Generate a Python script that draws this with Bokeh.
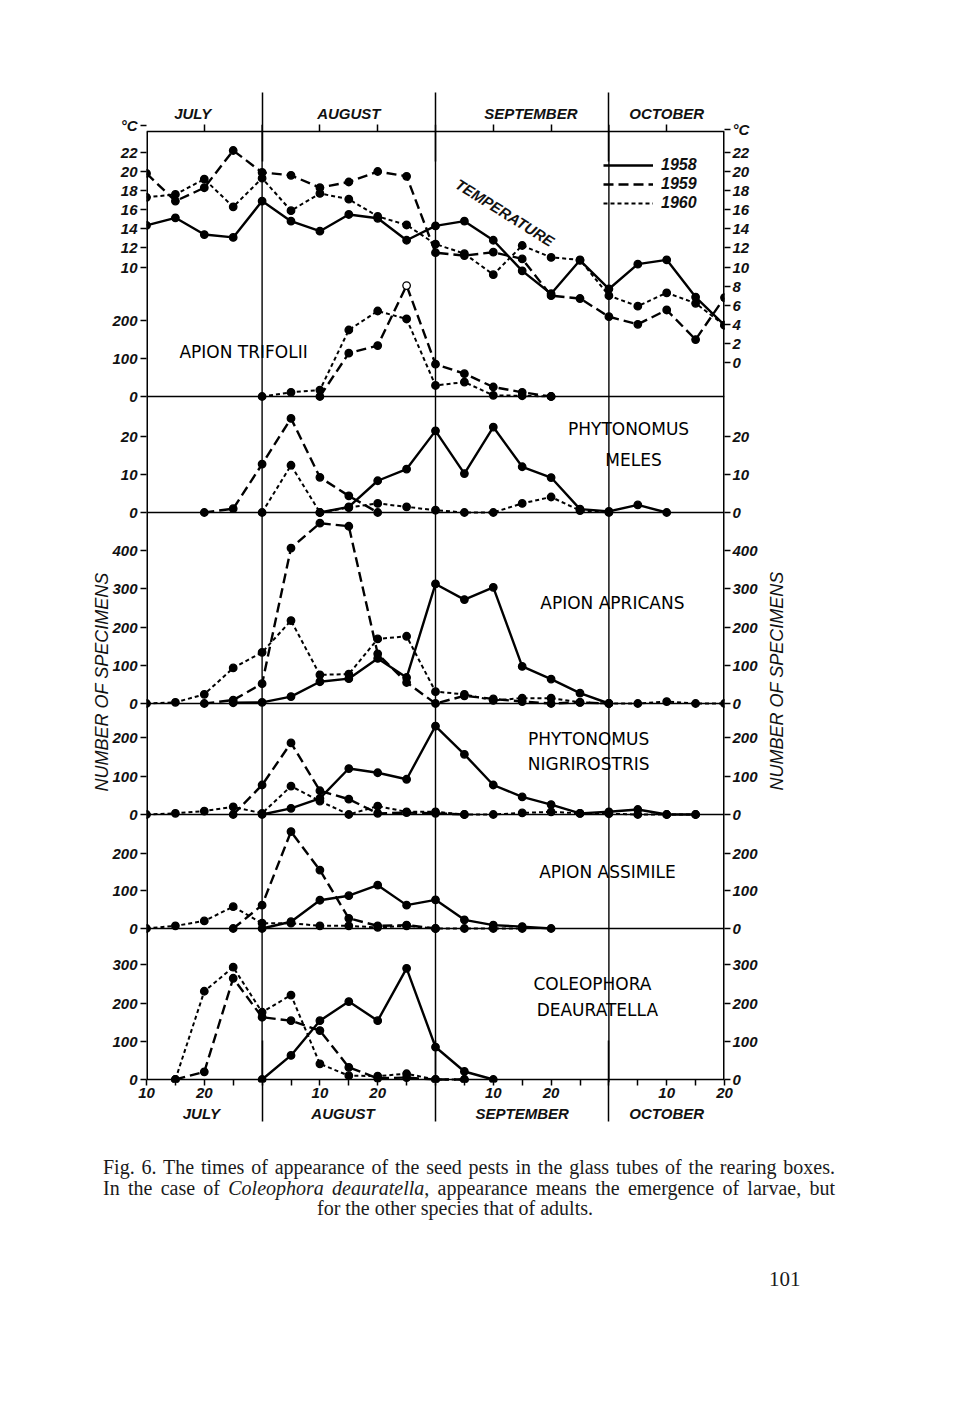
import math
from bokeh.plotting import figure
from bokeh.models import Range1d, LinearAxis, FixedTicker, Span, Label, Legend, LegendItem, Div
from bokeh.layouts import column
from bokeh.embed import file_html
from bokeh.resources import INLINE

# ---------------- data ----------------
# x = pentad index counted from 1 July: 2 = 10 July, 4 = 20 July, 6 = 1 Aug,
# 8 = 10 Aug, 10 = 20 Aug, 12 = 1 Sep, ..., 18 = 1 Oct, 20 = 10 Oct, 22 = 20 Oct
temp_x = list(range(2, 23))
temp_1958 = [14.35, 15.15, 13.4, 13.1, 16.9, 14.8, 13.75, 15.5, 15.1, 12.8, 14.3,
             14.8, 12.8, 9.6, 7.2, 10.7, 7.7, 10.3, 10.75, 6.85, 3.9]
temp_1959 = [19.8, 16.9, 18.3, 22.2, 19.9, 19.6, 18.3, 18.9, 20.0, 19.5, 11.5,
             11.2, 11.55, 10.85, 7.0, 6.7, 4.8, 4.0, 5.5, 2.4, 6.8]
temp_1960 = [17.3, 17.6, 19.2, 16.3, 19.3, 15.9, 17.7, 17.1, 15.3, 14.4, 12.4,
             11.4, 9.2, 12.25, 11.0, 10.75, 7.0, 5.9, 7.3, 6.2, 3.9]

trifolii_1959_x = [8, 9, 10, 11, 12, 13, 14, 15, 16]
trifolii_1959 = [0, 114, 134, 292, 85, 60, 25, 11, 0]
trifolii_1960_x = [6, 7, 8, 9, 10, 11, 12, 13, 14, 15, 16]
trifolii_1960 = [0, 11, 17, 175, 225, 204, 29, 38, 3, 2, 0]

meles_1958_x = list(range(8, 21))
meles_1958 = [0, 1.5, 8.4, 11.5, 21.6, 10.3, 22.6, 12.1, 9.25, 0.9, 0.3, 2.0, 0]
meles_1959_x = list(range(4, 11))
meles_1959 = [0, 1.0, 12.8, 24.9, 9.3, 4.4, 0]
meles_1960_x = list(range(6, 19))
meles_1960 = [0, 12.5, 0, 1.3, 2.4, 1.5, 0.6, 0, 0, 2.4, 4.1, 0.5, 0]

apricans_1958_x = list(range(5, 19))
apricans_1958 = [2, 3, 18, 57, 65, 118, 68, 313, 272, 304, 97, 64, 27, 0]
apricans_1959_x = list(range(4, 19))
apricans_1959 = [0, 9, 52, 407, 472, 464, 130, 55, 0, 20, 12, 5, 0, 3, 0]
apricans_1960_x = list(range(2, 23))
apricans_1960 = [0, 3, 24, 93, 134, 217, 75, 77, 169, 176, 31, 24, 8, 14, 14, 3, 0, 0, 5, 0, 0]

nigri_1958_x = list(range(6, 22))
nigri_1958 = [0, 16, 42, 120, 109, 92, 231, 157, 77, 46, 26, 3, 7, 13, 0, 0]
nigri_1959_x = list(range(5, 14))
nigri_1959 = [0, 77, 187, 62, 40, 3, 5, 3, 0]
nigri_1960_x = list(range(2, 22))
nigri_1960 = [0, 3, 9, 20, 3, 74, 35, 0, 22, 7, 7, 0, 0, 4, 7, 3, 2, 0, 0, 0]

assimile_1958_x = list(range(6, 17))
assimile_1958 = [0, 18, 75, 87, 115, 62, 76, 23, 9, 5, 0]
assimile_1959_x = list(range(5, 13))
assimile_1959 = [0, 62, 257, 155, 27, 7, 9, 0]
assimile_1960_x = list(range(2, 16))
assimile_1960 = [0, 7, 20, 58, 14, 14, 7, 7, 3, 7, 0, 0, 0, 0]

coleo_1958_x = list(range(6, 15))
coleo_1958 = [0, 63, 154, 204, 154, 291, 85, 21, 0]
coleo_1959_x = list(range(3, 14))
coleo_1959 = [0, 20, 265, 163, 154, 128, 32, 3, 5, 0, 0]
coleo_1960_x = list(range(3, 14))
coleo_1960 = [0, 231, 294, 176, 221, 41, 10, 9, 15, 0, 0]

months = ["JULY", "AUGUST", "SEPTEMBER", "OCTOBER"]
years = ["1958", "1959", "1960"]
day_ticks = {2: "10", 4: "20", 8: "10", 10: "20", 14: "10", 16: "20", 20: "10", 22: "20"}

temp_left_ticks = [10, 12, 14, 16, 18, 20, 22]
temp_right_ticks = [0, 2, 4, 6, 8, 10, 12, 14, 16, 18, 20, 22]
count_ticks = {
    "trifolii": [0, 100, 200],
    "meles": [0, 10, 20],
    "apricans": [0, 100, 200, 300, 400],
    "nigri": [0, 100, 200],
    "assimile": [0, 100, 200],
    "coleo": [0, 100, 200, 300],
}

# ---------------- layout geometry (page pixels) ----------------
BT, BB = 131, 1079          # drawn box top / bottom
PAD_T, PAD_B = 7, 3         # frame slightly larger than the box
FT, FB = BT - PAD_T, BB + PAD_B
FL, FW = 146, 578           # frame left / width
FH = FB - FT
# panel: (page y of its zero line, pixels per unit)
GEO = {
    "temp": (362, 9.55),
    "trifolii": (396, 0.38),
    "meles": (512, 3.78),
    "apricans": (703, 0.382),
    "nigri": (814, 0.383),
    "assimile": (928, 0.377),
    "coleo": (1079, 0.382),
}


def panel_range(z, s):
    return Range1d(start=(z - FB) / s, end=(z - FT) / s)


def tidy(r):
    r = round(r, 2)
    return int(r) if r == int(r) else r


def prim(panel, v):
    z, s = GEO[panel]
    return tidy(BB - z + v * s)


def page_y(py):
    return tidy(BB - py)


TOTAL_W = 944
p = figure(frame_width=FW, frame_height=FH, x_range=Range1d(2, 22),
           y_range=Range1d(-PAD_B, BB - BT + PAD_T),
           x_axis_type=None, y_axis_type=None, toolbar_location=None, output_backend="svg",
           min_border_left=FL, min_border_top=FT,
           min_border_right=TOTAL_W - FL - FW, min_border_bottom=58,
           background_fill_color="white", border_fill_color="white")
p.outline_line_color = None
p.extra_y_ranges = {k: panel_range(*v) for k, v in GEO.items()}

FONT = "Liberation Sans"
AX = dict(major_label_text_font=FONT, major_label_text_font_style="bold italic",
          major_label_text_font_size="15px", major_label_text_color="#111111",
          axis_line_color=None, axis_label_standoff=0,
          major_tick_line_color="black", major_tick_line_width=1.5,
          minor_tick_line_color="black", minor_tick_line_width=1.5)

# ----- y axes (left / right) -----
cl, cr = page_y(125), page_y(129)
left_ticks, left_labels = [cl], {cl: "°C"}
right_ticks, right_labels = [cr], {cr: "°C"}
for t in temp_left_ticks:
    k = prim("temp", t); left_ticks.append(k); left_labels[k] = str(t)
for t in temp_right_ticks:
    k = prim("temp", t); right_ticks.append(k); right_labels[k] = str(t)
for panel, ticks in count_ticks.items():
    for t in ticks:
        k = prim(panel, t)
        left_ticks.append(k); left_labels[k] = str(t)
        if panel != "trifolii":
            right_ticks.append(k); right_labels[k] = str(t)

left_ax = LinearAxis(ticker=FixedTicker(ticks=left_ticks), major_label_overrides=left_labels,
                     major_tick_out=6, major_tick_in=0,
                     minor_tick_out=0, minor_tick_in=0, major_label_standoff=3, **AX)
p.add_layout(left_ax, "left")
right_ax = LinearAxis(ticker=FixedTicker(ticks=right_ticks), major_label_overrides=right_labels,
                      major_tick_out=6, major_tick_in=0,
                      minor_tick_out=0, minor_tick_in=0, major_label_standoff=2, **AX)
p.add_layout(right_ax, "right")

# the "number of specimens" titles, as single rotated tick labels of outer axes
AXN = dict(AX)
AXN["major_label_text_font_size"] = "18px"
AXN["major_label_text_font_style"] = "italic"
spec_l, spec_r = page_y(572), page_y(790)
left_t = LinearAxis(ticker=FixedTicker(ticks=[spec_l]),
                    major_label_overrides={spec_l: "NUMBER OF SPECIMENS"},
                    major_label_orientation=math.pi / 2, major_tick_out=0, major_tick_in=0,
                    minor_tick_out=0, minor_tick_in=0, major_label_standoff=8, **AXN)
p.add_layout(left_t, "left")
right_t = LinearAxis(ticker=FixedTicker(ticks=[spec_r]),
                     major_label_overrides={spec_r: "NUMBER OF SPECIMENS"},
                     major_label_orientation=math.pi / 2, major_tick_out=0, major_tick_in=0,
                     minor_tick_out=0, minor_tick_in=0, major_label_standoff=16, **AXN)
p.add_layout(right_t, "right")

# ----- top axes -----
top_month_pos = [3.6, 9, 15.3, 20]
top_a = LinearAxis(ticker=FixedTicker(ticks=top_month_pos, minor_ticks=[4, 8, 10, 14, 16, 20]),
                   major_label_overrides={k: m for k, m in zip(top_month_pos, months)},
                   major_tick_out=0, major_tick_in=0, minor_tick_in=PAD_T, minor_tick_out=0,
                   major_label_standoff=3, **AX)
p.add_layout(top_a, "above")
top_b = LinearAxis(ticker=FixedTicker(ticks=[], minor_ticks=[6, 12, 18]),
                   major_tick_out=0, major_tick_in=0, minor_tick_in=60, minor_tick_out=9,
                   major_label_standoff=0, **AX)
p.add_layout(top_b, "above")

# ----- bottom axes -----
bot_a = LinearAxis(ticker=FixedTicker(ticks=list(day_ticks.keys()),
                                      minor_ticks=[3, 5, 6, 7, 9, 11, 12, 13, 15, 17, 18, 19, 21]),
                   major_label_overrides=day_ticks,
                   major_tick_out=3, major_tick_in=PAD_B, minor_tick_out=3, minor_tick_in=PAD_B,
                   major_label_standoff=2, **AX)
p.add_layout(bot_a, "below")
bot_month_pos = [3.9, 8.8, 15, 20]
bot_b = LinearAxis(ticker=FixedTicker(ticks=bot_month_pos, minor_ticks=[6, 12, 18]),
                   major_label_overrides={k: m for k, m in zip(bot_month_pos, months)},
                   major_tick_out=0, major_tick_in=0, minor_tick_in=60, minor_tick_out=21,
                   major_label_standoff=-17, **AX)
p.add_layout(bot_b, "below")

# ----- box and dividers -----
p.add_layout(Span(location=page_y(BT), dimension="width", line_color="black", line_width=1.5))
p.add_layout(Span(location=0, dimension="width", line_color="black", line_width=1.5))
p.segment(x0=[2, 22], y0=[0, 0], x1=[2, 22], y1=[page_y(BT), page_y(BT)],
          line_color="black", line_width=3)
for panel in ["trifolii", "meles", "apricans", "nigri", "assimile"]:
    p.add_layout(Span(location=prim(panel, 0), dimension="width", line_color="black", line_width=1.5))
for b in [6, 12, 18]:
    p.add_layout(Span(location=b, dimension="height", line_color="black", line_width=1.4))

# ----- series -----
STYLE = {
    "1958": dict(line_dash="solid", line_width=2.4),
    "1959": dict(line_dash="10 5", line_width=2.4),
    "1960": dict(line_dash="4 3", line_width=2.0),
}
OPEN_POINT = ("trifolii", "1959", 11)


def draw(xs, ys, panel, year):
    st = STYLE[year]
    r = p.line(xs, ys, y_range_name=panel, line_color="black", **st)
    fills = ["white" if (panel, year, x) == OPEN_POINT else "black" for x in xs]
    p.scatter(xs, ys, y_range_name=panel, marker="circle", size=7.5,
              fill_color=fills, line_color="black", line_width=1.3)
    return r


r58 = draw(temp_x, temp_1958, "temp", "1958")
r59 = draw(temp_x, temp_1959, "temp", "1959")
r60 = draw(temp_x, temp_1960, "temp", "1960")
draw(trifolii_1959_x, trifolii_1959, "trifolii", "1959")
draw(trifolii_1960_x, trifolii_1960, "trifolii", "1960")
draw(meles_1958_x, meles_1958, "meles", "1958")
draw(meles_1959_x, meles_1959, "meles", "1959")
draw(meles_1960_x, meles_1960, "meles", "1960")
draw(apricans_1958_x, apricans_1958, "apricans", "1958")
draw(apricans_1959_x, apricans_1959, "apricans", "1959")
draw(apricans_1960_x, apricans_1960, "apricans", "1960")
draw(nigri_1958_x, nigri_1958, "nigri", "1958")
draw(nigri_1959_x, nigri_1959, "nigri", "1959")
draw(nigri_1960_x, nigri_1960, "nigri", "1960")
draw(assimile_1958_x, assimile_1958, "assimile", "1958")
draw(assimile_1959_x, assimile_1959, "assimile", "1959")
draw(assimile_1960_x, assimile_1960, "assimile", "1960")
draw(coleo_1958_x, coleo_1958, "coleo", "1958")
draw(coleo_1959_x, coleo_1959, "coleo", "1959")
draw(coleo_1960_x, coleo_1960, "coleo", "1960")

legend = Legend(items=[LegendItem(label=y, renderers=[r]) for y, r in zip(years, [r58, r59, r60])],
                location=(457, FB - 212), glyph_width=50, glyph_height=16, label_height=16,
                label_standoff=8, padding=0, margin=0, spacing=1,
                border_line_color=None, background_fill_alpha=0,
                label_text_font=FONT, label_text_font_style="bold italic",
                label_text_font_size="16px", label_text_color="#111111")
p.add_layout(legend)

# ----- text labels inside the box -----
SP = dict(text_font="DejaVu Sans", text_font_size="17px", text_color="black",
          text_align="center", text_baseline="middle")
for txt, x, y, panel in [
    ("APION TRIFOLII", 5.36, 116, "trifolii"),
    ("PHYTONOMUS", 18.68, 22.2, "meles"),
    ("MELES", 18.85, 14.0, "meles"),
    ("APION APRICANS", 18.12, 264, "apricans"),
    ("PHYTONOMUS", 17.3, 198, "nigri"),
    ("NIGRIROSTRIS", 17.3, 133, "nigri"),
    ("APION ASSIMILE", 17.95, 151, "assimile"),
    ("COLEOPHORA", 17.43, 249, "coleo"),
    ("DEAURATELLA", 17.6, 181, "coleo"),
]:
    p.add_layout(Label(x=x, y=y, y_range_name=panel, text=txt, **SP))

p.add_layout(Label(x=14.4, y=15.7, y_range_name="temp", text="TEMPERATURE", angle=-0.56,
                   text_font=FONT, text_font_style="bold italic", text_font_size="15px",
                   text_align="center", text_baseline="middle", text_color="#111111"))

# ----- caption -----
cap = """
<div style="position:relative;width:944px;height:250px;font-family:'Liberation Serif','Times New Roman',serif;font-size:20px;color:#1a1a1a;line-height:20px;">
<div style="position:absolute;left:98px;top:12px;width:732px;text-align:justify;text-align-last:justify;">Fig. 6. The times of appearance of the seed pests in the glass tubes of the rearing boxes.</div>
<div style="position:absolute;left:98px;top:33px;width:732px;text-align:justify;text-align-last:justify;">In the case of <i>Coleophora deauratella</i>, appearance means the emergence of larvae, but</div>
<div style="position:absolute;left:84px;top:53px;width:732px;text-align:center;">for the other species that of adults.</div>
<div style="position:absolute;left:764px;top:124px;font-size:21px;">101</div>
</div>
"""
div = Div(text=cap, width=TOTAL_W, height=250)

layout = column(p, div)
open("out.html", "w").write(file_html(layout, INLINE))
